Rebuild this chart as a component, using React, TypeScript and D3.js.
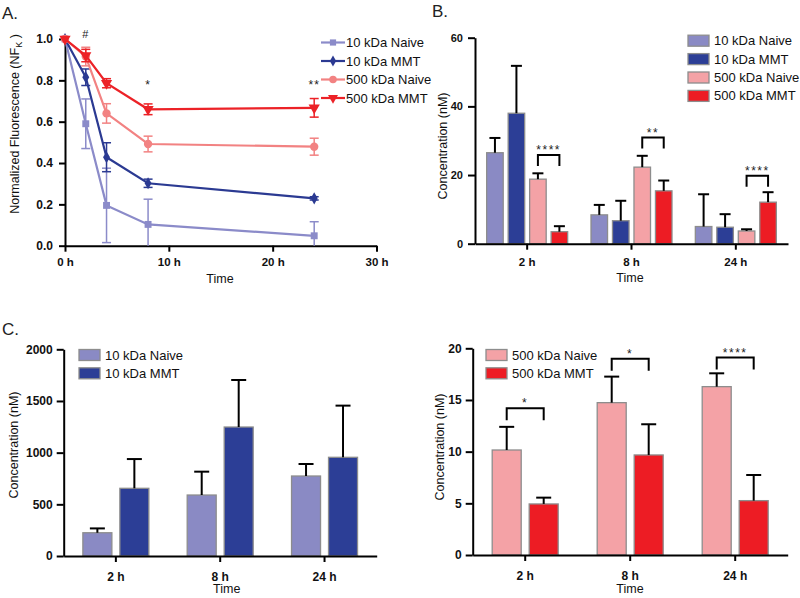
import React, { useEffect, useRef } from "react";
import * as d3 from "d3";

const FONT = "Arial, 'Liberation Sans', Helvetica, sans-serif";

// ---- Panel A: normalized fluorescence vs time ----
const timePoints = [0, 2, 4, 8, 24];
const naive10Mean = [1.0, 0.59, 0.195, 0.103, 0.048];
const naive10Err = [0, 0.12, 0.18, 0.122, 0.068];
const mmt10Mean = [1.0, 0.815, 0.428, 0.302, 0.229];
const mmt10Err = [0, 0.04, 0.07, 0.02, 0.008];
const naive500Mean = [1.0, 0.915, 0.64, 0.492, 0.479];
const naive500Err = [0, 0.045, 0.047, 0.038, 0.041];
const mmt500Mean = [1.0, 0.92, 0.786, 0.66, 0.667];
const mmt500Err = [0, 0.03, 0.022, 0.026, 0.045];
const aXTicks = [0, 10, 20, 30];
const aYTicks = [0, 0.2, 0.4, 0.6, 0.8, 1.0];
const aSigTimes = [2, 8, 24];
const aSigLabels = ["#", "*", "**"];
const aSigLevels = [1.03, 0.78, 0.78];

const seriesNames = ["10 kDa Naive", "10 kDa MMT", "500 kDa Naive", "500 kDa MMT"];
const lineColors = ["#8b8bc9", "#2b3a92", "#f28282", "#ec2227"];
const barColors = ["#8a8ac4", "#2c3e96", "#f4a2a6", "#ed1c24"];

// ---- Panel B: concentrations, all four groups ----
const groups = ["2 h", "8 h", "24 h"];
const bNaive10 = [26.5, 8.4, 5.0];
const bNaive10Err = [4.3, 2.9, 9.4];
const bMmt10 = [38.0, 6.7, 4.8];
const bMmt10Err = [13.8, 5.8, 3.8];
const bNaive500 = [18.8, 22.3, 3.7];
const bNaive500Err = [1.7, 3.3, 0.5];
const bMmt500 = [3.5, 15.4, 12.1];
const bMmt500Err = [1.6, 3.0, 2.9];
const bYTicks = [0, 20, 40, 60];
const bSigLabels = ["****", "**", "****"];
const bSigLevels = [25.8, 30.9, 19.8];

// ---- Panel C: 10 kDa and 500 kDa separately ----
const cNaive10 = [225, 590, 774];
const cNaive10Err = [42, 226, 116];
const cMmt10 = [655, 1248, 955];
const cMmt10Err = [283, 455, 500];
const cLeftYTicks = [0, 500, 1000, 1500, 2000];
const cNaive500 = [10.16, 14.74, 16.29];
const cNaive500Err = [2.24, 2.52, 1.29];
const cMmt500 = [4.94, 9.68, 5.26];
const cMmt500Err = [0.61, 2.97, 2.48];
const cRightYTicks = [0, 5, 10, 15, 20];
const cSigLabels = ["*", "*", "****"];
const cSigLevels = [14.2, 19.0, 19.1];

type Sel = d3.Selection<SVGGElement, unknown, null, undefined>;

function styleAxis(ax: Sel, size = 11) {
  ax.select(".domain").attr("stroke", "#000").attr("stroke-width", 2);
  ax.selectAll(".tick line").attr("stroke", "#000").attr("stroke-width", 2);
  ax.selectAll(".tick text")
    .attr("font-family", FONT)
    .attr("font-size", size)
    .attr("font-weight", "bold")
    .attr("fill", "#111");
}

function drawBarPanel(root: Sel, o: any) {
  const g = root.append("g");
  const x = d3.scaleBand<string>().domain(groups).range([o.x0, o.x1]);
  const y = d3.scaleLinear().domain([0, o.yMax]).range([o.yZero, o.yTop]);
  const inner = d3
    .scaleBand<string>()
    .domain(o.series.map((s: any) => s.name))
    .range([-o.groupHalf, o.groupHalf])
    .paddingInner(o.innerPad);
  const cx = (gi: number, name: string) =>
    (x(groups[gi]) as number) + x.bandwidth() / 2 + (inner(name) as number) + inner.bandwidth() / 2;

  // bars
  o.series.forEach((s: any) => {
    g.append("g")
      .selectAll("rect")
      .data(s.means)
      .join("rect")
      .attr("x", (_d: any, i: number) => cx(i, s.name) - inner.bandwidth() / 2)
      .attr("y", (d: any) => y(d))
      .attr("width", inner.bandwidth())
      .attr("height", (d: any) => y(0) - y(d))
      .attr("fill", s.color)
      .attr("stroke", "#8d8d8d")
      .attr("stroke-width", 1.3);
  });

  // error bars (upper only)
  o.series.forEach((s: any) => {
    const eg = g.append("g").attr("stroke", "#000").attr("stroke-width", 2);
    s.means.forEach((m: number, i: number) => {
      const xc = cx(i, s.name);
      const top = y(m + s.errs[i]);
      eg.append("line").attr("x1", xc).attr("x2", xc).attr("y1", y(m)).attr("y2", top);
      eg.append("line").attr("x1", xc - o.capW / 2).attr("x2", xc + o.capW / 2).attr("y1", top).attr("y2", top);
    });
  });

  // significance brackets
  if (o.sig) {
    const a = o.series[o.sig.a].name;
    const b = o.series[o.sig.b].name;
    o.sig.labels.forEach((lab: string, i: number) => {
      const xa = cx(i, a);
      const xb = cx(i, b);
      const yt = y(o.sig.levels[i]);
      g.append("path")
        .attr("d", `M${xa},${yt + o.sig.leg}V${yt}H${xb}V${yt + o.sig.leg}`)
        .attr("fill", "none")
        .attr("stroke", "#000")
        .attr("stroke-width", 2);
      g.append("text")
        .attr("x", (xa + xb) / 2)
        .attr("y", yt - 1)
        .attr("text-anchor", "middle")
        .attr("font-family", FONT)
        .attr("font-size", 12)
        .attr("letter-spacing", 1.5)
        .attr("fill", "#222")
        .text(lab);
    });
  }

  // axes
  const ya = g
    .append("g")
    .attr("transform", `translate(${o.x0},0)`)
    .call(d3.axisLeft(y).tickValues(o.yTicks).tickSize(7).tickSizeOuter(0).tickPadding(o.yPad).tickFormat(d3.format("d")) as any);
  styleAxis(ya, o.yTickFont);
  const xa = g
    .append("g")
    .attr("transform", `translate(0,${o.yZero})`)
    .call(d3.axisBottom(x).tickSize(6).tickSizeOuter(0).tickPadding(o.xPad) as any);
  styleAxis(xa, o.xTickFont);

  // titles
  g.append("text")
    .attr("transform", `translate(${o.yLabel[0]},${o.yLabel[1]}) rotate(-90)`)
    .attr("text-anchor", "middle")
    .attr("dy", "0.35em")
    .attr("font-family", FONT)
    .attr("font-size", 12.5)
    .attr("fill", "#111")
    .text("Concentration (nM)");
  g.append("text")
    .attr("x", o.xLabel[0])
    .attr("y", o.xLabel[1])
    .attr("text-anchor", "middle")
    .attr("dy", "0.35em")
    .attr("font-family", FONT)
    .attr("font-size", 12.5)
    .attr("fill", "#111")
    .text("Time");

  // legend
  const lg = g.append("g");
  o.series.forEach((s: any, i: number) => {
    const ly = o.legend.y + i * o.legend.step;
    lg.append("rect")
      .attr("x", o.legend.x)
      .attr("y", ly - 5.5)
      .attr("width", 21)
      .attr("height", 11)
      .attr("fill", s.color)
      .attr("stroke", "#8d8d8d")
      .attr("stroke-width", 1.3);
    lg.append("text")
      .attr("x", o.legend.x + 26)
      .attr("y", ly)
      .attr("dy", "0.35em")
      .attr("font-family", FONT)
      .attr("font-size", 13)
      .attr("fill", "#111")
      .text(s.name);
  });
}

const App: React.FC = () => {
  const ref = useRef<SVGSVGElement | null>(null);

  useEffect(() => {
    const svg = d3.select(ref.current);
    svg.selectAll("*").remove();
    const root = svg.append("g") as unknown as Sel;

    // panel letters
    [["A.", 2, 19], ["B.", 432, 17], ["C.", 2, 335]].forEach(([t, px, py]) => {
      root.append("text")
        .attr("x", px as number)
        .attr("y", py as number)
        .attr("font-family", FONT)
        .attr("font-size", 17)
        .attr("fill", "#222")
        .text(t as string);
    });

    // ===== Panel A =====
    const gA = root.append("g");
    const xA = d3.scaleLinear().domain([0, 30]).range([65, 376.5]);
    const yA = d3.scaleLinear().domain([0, 1]).range([245.7, 39]);
    const aSeries = [
      { name: seriesNames[0], color: lineColors[0], means: naive10Mean, errs: naive10Err, sym: d3.symbolSquare, size: 48, rot: 0 },
      { name: seriesNames[1], color: lineColors[1], means: mmt10Mean, errs: mmt10Err, sym: d3.symbolDiamond, size: 42, rot: 0 },
      { name: seriesNames[2], color: lineColors[2], means: naive500Mean, errs: naive500Err, sym: d3.symbolCircle, size: 55, rot: 0 },
      { name: seriesNames[3], color: lineColors[3], means: mmt500Mean, errs: mmt500Err, sym: d3.symbolTriangle, size: 55, rot: 180 },
    ];

    const axA = gA.append("g").attr("transform", `translate(0,${yA(0)})`)
      .call(d3.axisBottom(xA).tickValues(aXTicks).tickSize(6).tickSizeOuter(0).tickPadding(6).tickFormat((d: any) => `${d} h`) as any);
    styleAxis(axA as any, 11.5);
    const ayA = gA.append("g").attr("transform", `translate(${xA(0)},0)`)
      .call(d3.axisLeft(yA).tickValues(aYTicks).tickSize(6).tickSizeOuter(0).tickPadding(6).tickFormat(d3.format(".1f")) as any);
    styleAxis(ayA as any, 12);

    aSeries.forEach((s) => {
      const sg = gA.append("g");
      // error bars
      s.means.forEach((m, i) => {
        const e = s.errs[i];
        if (e <= 0) return;
        const xc = xA(timePoints[i]);
        const lo = Math.max(0, m - e);
        sg.append("line").attr("x1", xc).attr("x2", xc).attr("y1", yA(lo)).attr("y2", yA(m + e))
          .attr("stroke", s.color).attr("stroke-width", 1.5);
        sg.append("line").attr("x1", xc - 4.5).attr("x2", xc + 4.5).attr("y1", yA(m + e)).attr("y2", yA(m + e))
          .attr("stroke", s.color).attr("stroke-width", 1.5);
        if (m - e >= 0)
          sg.append("line").attr("x1", xc - 4.5).attr("x2", xc + 4.5).attr("y1", yA(m - e)).attr("y2", yA(m - e))
            .attr("stroke", s.color).attr("stroke-width", 1.5);
      });
      const line = d3.line<number>().x((_d, i) => xA(timePoints[i])).y((d) => yA(d));
      sg.append("path").attr("d", line(s.means) as string).attr("fill", "none")
        .attr("stroke", s.color).attr("stroke-width", 2.2);
      const sym = d3.symbol().type(s.sym).size(s.size);
      sg.selectAll("path.pt").data(s.means).join("path").attr("class", "pt")
        .attr("d", sym() as string)
        .attr("transform", (d, i) => `translate(${xA(timePoints[i])},${yA(d)}) rotate(${s.rot})`)
        .attr("fill", s.color);
    });

    aSigLabels.forEach((lab, i) => {
      gA.append("text")
        .attr("x", xA(aSigTimes[i]))
        .attr("y", yA(aSigLevels[i]) + 5)
        .attr("text-anchor", "middle")
        .attr("font-family", FONT)
        .attr("font-size", lab === "#" ? 11 : 12)
        .attr("letter-spacing", 1)
        .attr("fill", "#222")
        .text(lab);
    });

    // legend A
    aSeries.forEach((s, i) => {
      const ly = 42.5 + i * 18.5;
      gA.append("line").attr("x1", 321).attr("x2", 345).attr("y1", ly).attr("y2", ly)
        .attr("stroke", s.color).attr("stroke-width", 2.2);
      gA.append("path").attr("d", d3.symbol().type(s.sym).size(s.size * 0.8)() as string)
        .attr("transform", `translate(333,${ly}) rotate(${s.rot})`).attr("fill", s.color);
      gA.append("text").attr("x", 346).attr("y", ly).attr("dy", "0.35em")
        .attr("font-family", FONT).attr("font-size", 13).attr("fill", "#111").text(s.name);
    });

    const yl = gA.append("text")
      .attr("transform", "translate(15,124) rotate(-90)")
      .attr("text-anchor", "middle")
      .attr("dy", "0.35em")
      .attr("font-family", FONT)
      .attr("font-size", 12.5)
      .attr("fill", "#111");
    yl.append("tspan").text("Normalized Fluorescence (NF");
    yl.append("tspan").attr("font-size", 9).attr("dy", 3).text("K");
    yl.append("tspan").attr("dy", -3).text(" )");
    gA.append("text").attr("x", 220).attr("y", 279).attr("dy", "0.35em").attr("text-anchor", "middle")
      .attr("font-family", FONT).attr("font-size", 12.5).attr("fill", "#111").text("Time");

    // ===== Panel B =====
    drawBarPanel(root, {
      x0: 475, x1: 788, yZero: 243.7, yTop: 37.7, yMax: 60, yTicks: bYTicks,
      groupHalf: 40.5, innerPad: 0.23, capW: 11, yPad: 5, xPad: 8, yTickFont: 11, xTickFont: 11.5,
      series: [
        { name: seriesNames[0], color: barColors[0], means: bNaive10, errs: bNaive10Err },
        { name: seriesNames[1], color: barColors[1], means: bMmt10, errs: bMmt10Err },
        { name: seriesNames[2], color: barColors[2], means: bNaive500, errs: bNaive500Err },
        { name: seriesNames[3], color: barColors[3], means: bMmt500, errs: bMmt500Err },
      ],
      sig: { a: 2, b: 3, labels: bSigLabels, levels: bSigLevels, leg: 11 },
      yLabel: [443, 146], xLabel: [630, 278],
      legend: { x: 688, y: 40.7, step: 18.4 },
    });

    // ===== Panel C left =====
    drawBarPanel(root, {
      x0: 63.7, x1: 376.7, yZero: 556, yTop: 349.3, yMax: 2000, yTicks: cLeftYTicks,
      groupHalf: 33, innerPad: 0.216, capW: 15, yPad: 4, xPad: 10, yTickFont: 12, xTickFont: 12,
      series: [
        { name: seriesNames[0], color: barColors[0], means: cNaive10, errs: cNaive10Err },
        { name: seriesNames[1], color: barColors[1], means: cMmt10, errs: cMmt10Err },
      ],
      yLabel: [13.5, 445], xLabel: [226.7, 589],
      legend: { x: 79, y: 355, step: 18.3 },
    });

    // ===== Panel C right =====
    drawBarPanel(root, {
      x0: 472.7, x1: 787.7, yZero: 555, yTop: 348.3, yMax: 20, yTicks: cRightYTicks,
      groupHalf: 33, innerPad: 0.216, capW: 15, yPad: 4, xPad: 10, yTickFont: 12, xTickFont: 12,
      series: [
        { name: seriesNames[2], color: barColors[2], means: cNaive500, errs: cNaive500Err },
        { name: seriesNames[3], color: barColors[3], means: cMmt500, errs: cMmt500Err },
      ],
      sig: { a: 0, b: 1, labels: cSigLabels, levels: cSigLevels, leg: 12 },
      yLabel: [440, 447], xLabel: [630, 589],
      legend: { x: 486, y: 355, step: 18.3 },
    });
  }, []);

  return (
    <svg
      ref={ref}
      width={800}
      height={598}
      style={{ position: "absolute", left: 0, top: 0, background: "#fff" }}
    />
  );
};

export default App;
